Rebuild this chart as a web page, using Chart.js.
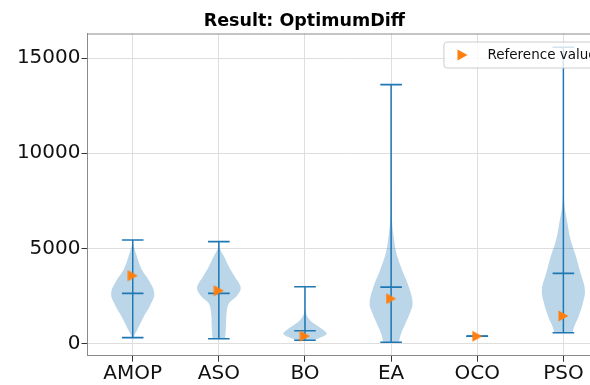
<!DOCTYPE html>
<html>
<head>
<meta charset="utf-8">
<title>Result: OptimumDiff</title>
<script src="https://cdn.jsdelivr.net/npm/chart.js@4.4.1/dist/chart.umd.min.js"></script>
<style>
  html, body { margin: 0; padding: 0; background: #fff; overflow: hidden; }
  #wrap { width: 616px; height: 385px; }
</style>
</head>
<body>
<div id="wrap"><canvas id="chart" width="616" height="385"></canvas></div>
<script>
// algorithms on the x axis, results on the y axis
const categories = ['AMOP', 'ASO', 'BO', 'EA', 'OCO', 'PSO'];
const minValues = [300, 240, 160, 60, 370, 560];
const maxValues = [5440, 5350, 2980, 13610, 370, 15580];
const medianValues = [2630, 2630, 660, 2960, 370, 3680];
const referenceValues = [3560, 2770, 380, 2350, 370, 1440];
const yTickValues = [0, 5000, 10000, 15000];

// violin outlines: levels (y) and relative half widths (1 = widest)
const violinLevels = [
  [300, 384, 874, 1400, 2016, 2632, 3332, 3858, 4558, 5174, 5440],
  [240, 347, 874, 1579, 2105, 2453, 2805, 3068, 3505, 4032, 4558, 5000, 5350],
  [160, 263, 474, 611, 874, 1226, 1663, 2300, 2980],
  [60, 526, 1053, 1579, 2105, 2979, 3858, 4737, 5611, 6479, 7368, 10000, 13610],
  [],
  [560, 874, 1400, 2105, 2805, 3684, 4558, 5437, 6316, 7542, 10000, 15580]
];
const violinWidths = [
  [0.03, 0.06, 0.28, 0.51, 0.82, 1.0, 0.74, 0.43, 0.2, 0.04, 0.0],
  [0.3, 0.3, 0.33, 0.36, 0.47, 0.8, 1.0, 0.98, 0.74, 0.47, 0.25, 0.04, 0.0],
  [0.4, 0.64, 1.0, 0.95, 0.64, 0.22, 0.03, 0.01, 0.0],
  [0.36, 0.47, 0.67, 0.87, 1.0, 0.82, 0.51, 0.25, 0.12, 0.04, 0.02, 0.01, 0.0],
  [],
  [0.42, 0.5, 0.7, 0.9, 1.0, 0.8, 0.59, 0.34, 0.19, 0.03, 0.01, 0.0]
];

const BLUE = '#1f77b4';
const ORANGE = '#ff7f0e';
const FONT = 'DejaVu Sans';
const HALF_WIDTH = 0.25; // max violin half width in x units

// right-pointing triangle marker, centred on its bounding box
const marker = document.createElement('canvas');
marker.width = 11;
marker.height = 12;
(() => {
  const m = marker.getContext('2d');
  m.fillStyle = ORANGE;
  m.beginPath();
  m.moveTo(0.5, 0.5);
  m.lineTo(10.5, 6);
  m.lineTo(0.5, 11.5);
  m.closePath();
  m.fill();
})();

const violinSets = categories.map((name, i) => {
  const lv = violinLevels[i], w = violinWidths[i];
  const left = lv.map((v, k) => ({ x: i + 1 - HALF_WIDTH * w[k], y: v }));
  const right = lv.map((v, k) => ({ x: i + 1 + HALF_WIDTH * w[k], y: v })).reverse();
  return {
    type: 'line',
    label: name,
    data: left.concat(right),
    fill: 'shape',
    backgroundColor: 'rgba(31, 119, 180, 0.3)',
    borderColor: 'rgba(0, 0, 0, 0)',
    borderWidth: 0,
    pointRadius: 0,
    tension: 0.4,
    order: 3
  };
}).filter(ds => ds.data.length);

const whiskerPoints = [];
categories.forEach((name, i) => {
  whiskerPoints.push({ x: i + 1, y: minValues[i] }, { x: i + 1, y: maxValues[i] }, { x: i + 1, y: null });
});

const capPoints = categories.flatMap((name, i) =>
  [minValues[i], maxValues[i], medianValues[i]].map(v => ({ x: i + 1, y: v })));

const refPoints = referenceValues.map((v, i) => ({ x: i + 1, y: v }));

// top/right spines and the framed legend
const framePlugin = {
  id: 'frame',
  afterDraw(chart) {
    const { ctx, chartArea: a } = chart;
    ctx.save();
    ctx.strokeStyle = '#8a8a8a';
    ctx.lineWidth = 1;
    ctx.beginPath();
    ctx.moveTo(a.left, a.top + 0.5);
    ctx.lineTo(a.right - 0.5, a.top + 0.5);
    ctx.lineTo(a.right - 0.5, a.bottom);
    ctx.stroke();

    const label = 'Reference value';
    ctx.font = '13.5px "' + FONT + '"';
    const tw = ctx.measureText(label).width;
    const right = a.right - 7;
    const left = right - 44 - tw - 5;
    const top = a.top + 8;
    const h = 26;
    ctx.beginPath();
    ctx.roundRect(left + 0.5, top + 0.5, right - left, h, 3);
    ctx.fillStyle = 'rgba(255, 255, 255, 0.8)';
    ctx.fill();
    ctx.strokeStyle = '#cccccc';
    ctx.stroke();

    const cy = top + h / 2 + 0.5;
    Chart.helpers.drawPoint(ctx, { pointStyle: marker, radius: 6, rotation: 0, borderWidth: 0 }, left + 19, cy);
    ctx.fillStyle = '#111';
    ctx.textAlign = 'left';
    ctx.textBaseline = 'middle';
    ctx.fillText(label, left + 44, cy);
    ctx.restore();
  }
};

const axisGrid = { color: '#dedede', lineWidth: 1, tickLength: 6, tickColor: '#333', drawTicks: true };
const axisBorder = { color: '#8a8a8a', width: 1 };

new Chart(document.getElementById('chart'), {
  type: 'line',
  data: {
    datasets: [
      {
        type: 'scatter',
        label: 'Reference value',
        data: refPoints,
        pointStyle: marker,
        pointRadius: 6,
        backgroundColor: ORANGE,
        borderColor: ORANGE,
        borderWidth: 0,
        order: 0
      },
      {
        type: 'scatter',
        label: 'extrema',
        data: capPoints,
        pointStyle: 'line',
        pointRadius: 10.8,
        borderColor: BLUE,
        pointBorderWidth: 1.6,
        order: 1
      },
      {
        type: 'line',
        label: 'range',
        data: whiskerPoints,
        borderColor: BLUE,
        borderWidth: 1.5,
        pointRadius: 0,
        spanGaps: false,
        fill: false,
        order: 2
      },
      ...violinSets
    ]
  },
  options: {
    responsive: false,
    animation: false,
    events: [],
    layout: { autoPadding: false, padding: { left: 0, right: 7.4, top: 0, bottom: 0 } },
    plugins: {
      legend: { display: false },
      tooltip: { enabled: false },
      title: {
        display: true,
        text: 'Result: OptimumDiff',
        color: '#000',
        font: { family: FONT, size: 17.5, weight: 'bold' },
        padding: { top: 10.5, bottom: 2 }
      }
    },
    scales: {
      x: {
        type: 'linear',
        min: 0.475,
        max: 6.525,
        afterBuildTicks: s => { s.ticks = categories.map((c, i) => ({ value: i + 1 })); },
        afterFit: s => { s.height = 29.3; s.paddingLeft = 0; s.paddingRight = 0; },
        grid: axisGrid,
        border: axisBorder,
        ticks: {
          autoSkip: false,
          maxRotation: 0,
          padding: 0,
          color: '#111',
          font: { family: FONT, size: 20 },
          callback: v => categories[Math.round(v) - 1]
        }
      },
      y: {
        type: 'linear',
        min: -650,
        max: 16300,
        afterBuildTicks: s => { s.ticks = yTickValues.map(v => ({ value: v })); },
        afterFit: s => { s.width = 87.5; s.paddingTop = 0; s.paddingBottom = 0; },
        grid: axisGrid,
        border: axisBorder,
        ticks: {
          padding: 1,
          color: '#111',
          font: { family: FONT, size: 20 },
          callback: v => String(v)
        }
      }
    }
  },
  plugins: [framePlugin]
});
</script>
</body>
</html>
